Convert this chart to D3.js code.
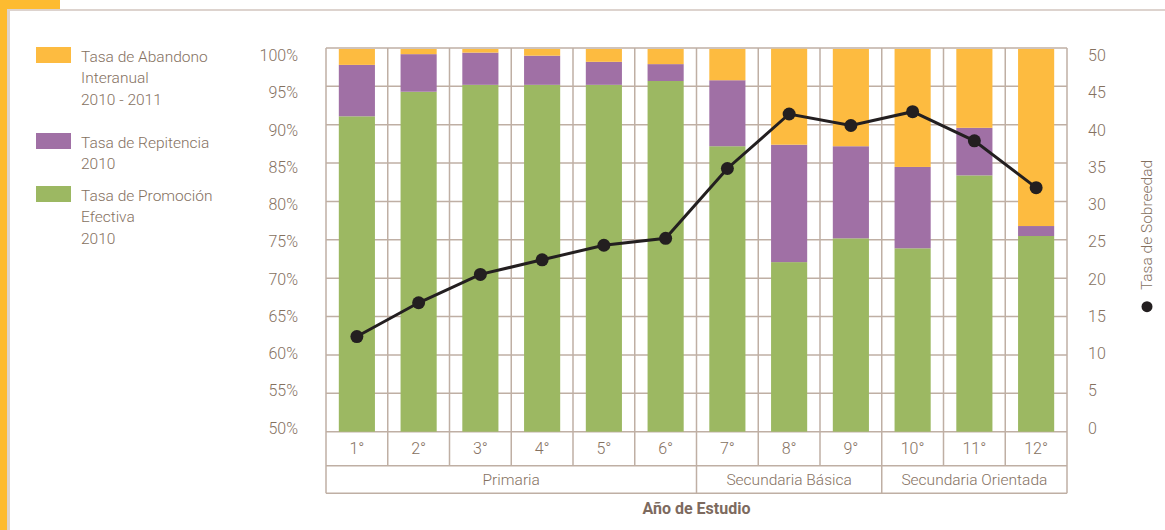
<!DOCTYPE html>
<html>
<head>
<meta charset="utf-8">
<script src="https://cdn.jsdelivr.net/npm/d3@7"></script>
<style>
    body { margin: 0; background: #fff; }
    svg { display: block; font-family: Roboto, "Open Sans", sans-serif; font-weight: 300; }
</style>
</head>
<body>
<div id="chart"></div>
<script>
const width = 1165;
const height = 530;

const grades = ["1°", "2°", "3°", "4°", "5°", "6°", "7°", "8°", "9°", "10°", "11°", "12°"];
const levels = [
    { name: "Primaria", from: "1°", to: "6°" },
    { name: "Secundaria Básica", from: "7°", to: "9°" },
    { name: "Secundaria Orientada", from: "10°", to: "12°" }
];
const promocion = [91.1, 94.3, 95.2, 95.2, 95.2, 95.7, 87.2, 72.1, 75.2, 73.9, 83.4, 75.5];
const repitencia = [6.7, 4.9, 4.2, 3.8, 3.0, 2.2, 8.6, 15.3, 12.0, 10.6, 6.2, 1.3];
const abandono = [2.2, 0.8, 0.6, 1.0, 1.8, 2.1, 4.2, 12.5, 12.8, 15.5, 10.4, 23.2];
const sobreedad = [12.4, 16.8, 20.5, 22.4, 24.3, 25.2, 34.3, 41.4, 39.9, 41.7, 37.9, 31.8];
const leftTicks = [50, 55, 60, 65, 70, 75, 80, 85, 90, 95, 100];
const rightTicks = [0, 5, 10, 15, 20, 25, 30, 35, 40, 45, 50];

const keys = ["promocion", "repitencia", "abandono"];
const legendLabels = {
    abandono: ["Tasa de Abandono", "Interanual", "2010 - 2011"],
    repitencia: ["Tasa de Repitencia", "2010"],
    promocion: ["Tasa de Promoción", "Efectiva", "2010"]
};
const color = d3.scaleOrdinal().domain(keys).range(["#9cb862", "#a070a5", "#fdbb40"]);

const textColor = "#85715f";
const gridColor = "#bfafa4";

const plot = { left: 326, right: 1067, top: 48, bottom: 431.7 };
const rowCat = 465.7;
const rowLevel = 493.3;

const table = grades.map((g, i) => ({
    grade: g,
    promocion: promocion[i],
    repitencia: repitencia[i],
    abandono: abandono[i],
    sobreedad: sobreedad[i]
}));

const x = d3.scaleBand().domain(grades).range([plot.left, plot.right]);
const barWidth = x.bandwidth() * 0.585;
const y = d3.scaleLinear().domain([50, 100]).range([plot.bottom, plot.top]).clamp(true);
const yRight = d3.scaleLinear().domain([0, 50]).range([plot.bottom, plot.top]);
// tick labels sit on a slightly tighter spread than the gridlines
const yLab = d3.scaleLinear().domain([50, 100]).range([428, 55.5]);
const yLabRight = d3.scaleLinear().domain([0, 50]).range([428, 55.5]);

const svg = d3.select("#chart").append("svg")
    .attr("width", width)
    .attr("height", height)
    .style("font-size", "15.5px");

// page frame
svg.append("rect").attr("x", 0).attr("y", 0).attr("width", 60).attr("height", 9).attr("fill", "#fdbb30");
svg.append("rect").attr("x", 0).attr("y", 0).attr("width", 7).attr("height", height).attr("fill", "#fdbb30");
svg.append("rect").attr("x", 7).attr("y", 9).attr("width", width - 7).attr("height", 2).attr("fill", "#ddd3ce");
svg.append("rect").attr("x", 7).attr("y", 9).attr("width", 3).attr("height", height - 9).attr("fill", "#ddd3ce");

// grid (behind the bars)
const grid = svg.append("g")
    .attr("stroke", gridColor)
    .attr("stroke-width", 1.5)
    .attr("fill", "none");

grid.selectAll(".h")
    .data(leftTicks)
    .join("line")
    .attr("x1", plot.left)
    .attr("x2", plot.right)
    .attr("y1", d => y(d))
    .attr("y2", d => y(d));

grid.selectAll(".v")
    .data(grades.slice(1))
    .join("line")
    .attr("x1", d => x(d))
    .attr("x2", d => x(d))
    .attr("y1", plot.top)
    .attr("y2", rowCat);

grid.selectAll(".lv")
    .data(levels.slice(1))
    .join("line")
    .attr("x1", d => x(d.from))
    .attr("x2", d => x(d.from))
    .attr("y1", rowCat)
    .attr("y2", rowLevel);

grid.selectAll(".row")
    .data([rowCat, rowLevel])
    .join("line")
    .attr("x1", plot.left)
    .attr("x2", plot.right)
    .attr("y1", d => d)
    .attr("y2", d => d);

grid.selectAll(".side")
    .data([plot.left, plot.right])
    .join("line")
    .attr("x1", d => d)
    .attr("x2", d => d)
    .attr("y1", plot.top)
    .attr("y2", rowLevel);

// bars
const stack = d3.stack().keys(keys)(table);

svg.append("g")
    .selectAll("g")
    .data(stack)
    .join("g")
    .attr("fill", d => color(d.key))
    .selectAll("rect")
    .data(d => d)
    .join("rect")
    .attr("x", d => x(d.data.grade) + (x.bandwidth() - barWidth) / 2)
    .attr("width", barWidth)
    .attr("y", d => y(d[1]) + (d[1] >= 99.95 ? 1 : 0))
    .attr("height", d => y(d[0]) - y(d[1]) - (d[1] >= 99.95 ? 1 : 0));

// axes
const leftAxis = svg.append("g")
    .attr("transform", `translate(${plot.left - 25},0)`)
    .call(d3.axisLeft(yLab).tickValues(leftTicks).tickSize(0).tickFormat(d => d + "%"));

const rightAxis = svg.append("g")
    .attr("transform", `translate(${plot.right + 18},0)`)
    .call(d3.axisRight(yLabRight).tickValues(rightTicks).tickSize(0));

[leftAxis, rightAxis].forEach(a => {
    a.select(".domain").remove();
    a.selectAll("text")
        .attr("fill", textColor)
        .style("font-size", "16px")
        .style("font-family", "Roboto, sans-serif")
        .style("font-weight", 300);
});

svg.append("g")
    .selectAll("text")
    .data(grades)
    .join("text")
    .attr("x", d => x(d) + x.bandwidth() / 2)
    .attr("y", (plot.bottom + rowCat) / 2)
    .attr("dy", "0.35em")
    .attr("text-anchor", "middle")
    .attr("fill", textColor)
    .style("font-size", "16px")
    .text(d => d);

svg.append("g")
    .selectAll("text")
    .data(levels)
    .join("text")
    .attr("x", d => (x(d.from) + x(d.to) + x.bandwidth()) / 2)
    .attr("y", (rowCat + rowLevel) / 2)
    .attr("dy", "0.35em")
    .attr("text-anchor", "middle")
    .attr("fill", textColor)
    .text(d => d.name);

svg.append("text")
    .attr("x", (plot.left + plot.right) / 2)
    .attr("y", 514)
    .attr("text-anchor", "middle")
    .attr("fill", "#7d6a5e")
    .style("font-weight", 700)
    .style("font-size", "16px")
    .text("Año de Estudio");

// line
const line = d3.line()
    .x(d => x(d.grade) + x.bandwidth() / 2)
    .y(d => yRight(d.sobreedad));

svg.append("path")
    .datum(table)
    .attr("fill", "none")
    .attr("stroke", "#231f20")
    .attr("stroke-width", 3)
    .attr("d", line);

svg.append("g")
    .attr("fill", "#231f20")
    .selectAll("circle")
    .data(table)
    .join("circle")
    .attr("cx", d => x(d.grade) + x.bandwidth() / 2)
    .attr("cy", d => yRight(d.sobreedad))
    .attr("r", 6.5);

// right axis title
const rTitle = svg.append("g").attr("transform", "translate(1147,0)");
rTitle.append("text")
    .attr("transform", "translate(5,225) rotate(-90)")
    .attr("text-anchor", "middle")
    .attr("fill", textColor)
    .text("Tasa de Sobreedad");
rTitle.append("circle")
    .attr("cy", 306.7)
    .attr("r", 5.5)
    .attr("fill", "#231f20");

// legend
const legendOrder = ["abandono", "repitencia", "promocion"];
const legendTop = { abandono: 47, repitencia: 133, promocion: 186 };

const legend = svg.append("g")
    .selectAll("g")
    .data(legendOrder)
    .join("g")
    .attr("transform", d => `translate(36,${legendTop[d]})`);

legend.append("rect")
    .attr("width", 35)
    .attr("height", 16)
    .attr("fill", d => color(d));

legend.append("text")
    .attr("x", 45)
    .attr("fill", textColor)
    .selectAll("tspan")
    .data(d => legendLabels[d])
    .join("tspan")
    .attr("x", 45)
    .attr("y", (d, i) => 15 + i * 21.3)
    .text(d => d);
</script>
</body>
</html>
